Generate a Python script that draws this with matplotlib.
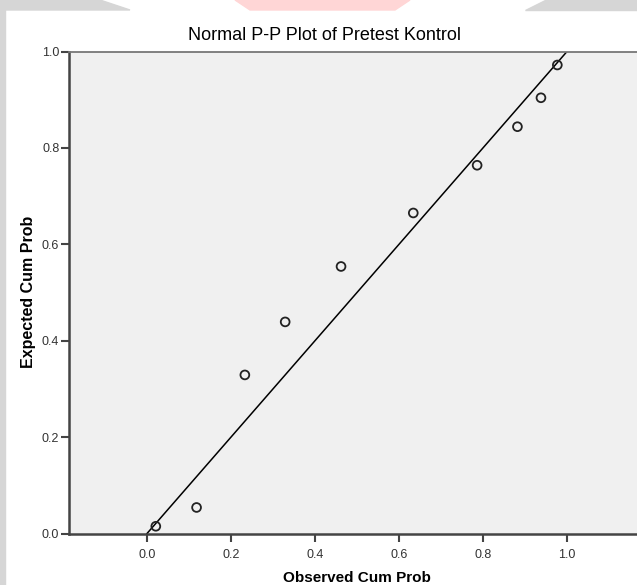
import matplotlib
matplotlib.use("Agg")
import matplotlib.pyplot as plt
from matplotlib.patches import Polygon, Rectangle

observed = [0.021, 0.118, 0.233, 0.329, 0.462, 0.634, 0.786, 0.882, 0.938, 0.977]
expected = [0.015, 0.054, 0.329, 0.439, 0.554, 0.665, 0.764, 0.844, 0.904, 0.972]
ref_line = [0.0, 1.0]
xticks = [0.0, 0.2, 0.4, 0.6, 0.8, 1.0]
yticks = [0.0, 0.2, 0.4, 0.6, 0.8, 1.0]

title = "Normal P-P Plot of Pretest Kontrol"
xlabel = "Observed Cum Prob"
ylabel = "Expected Cum Prob"

W, H = 637, 585
plt.rcParams['font.family'] = ['Liberation Sans', 'DejaVu Sans']
fig = plt.figure(figsize=(W / 100, H / 100), dpi=100)
fig.patch.set_facecolor('white')

# watermark-like border strips
def fx(px):
    return px / W
def fy(py):
    return 1 - py / H
fig.patches.append(Rectangle((0, 0), fx(5), 1, transform=fig.transFigure, color='#d6d6d6', zorder=0))
fig.patches.append(Polygon([(fx(0), fy(0)), (fx(100), fy(0)), (fx(130), fy(10)), (fx(0), fy(10))],
                           closed=True, transform=fig.transFigure, color='#d6d6d6', zorder=0))
fig.patches.append(Polygon([(fx(235), fy(0)), (fx(410), fy(0)), (fx(395), fy(10)), (fx(250), fy(10))],
                           closed=True, transform=fig.transFigure, color='#ffd6d6', zorder=0))
fig.patches.append(Polygon([(fx(545), fy(0)), (fx(637), fy(0)), (fx(637), fy(10)), (fx(525), fy(10))],
                           closed=True, transform=fig.transFigure, color='#d6d6d6', zorder=0))

left, right = 69, 637
top, bottom = 51.5, 533.5
ax = fig.add_axes([left / W, 1 - bottom / H, (right - left) / W, (bottom - top) / H])
ax.set_facecolor('#f0f0f0')

x0px = 147.0
unit = 420.0
ax.set_xlim((left - x0px) / unit, (right - x0px) / unit)
ax.set_ylim(0, 1)

ax.plot(ref_line, ref_line, color='black', lw=1.1, zorder=2)
ax.scatter(observed, expected, s=40, facecolors='none', edgecolors='#222222', linewidths=1.3, zorder=3)

ax.set_xticks(xticks)
ax.set_yticks(yticks)
ax.set_xticklabels([f"{v:.1f}" for v in xticks])
ax.set_yticklabels([f"{v:.1f}" for v in yticks])
ax.tick_params(axis='both', direction='out', length=6, width=1.5, color='#444444',
               labelsize=9, labelcolor='#333333', pad=1)
ax.tick_params(axis='x', pad=5)

for side in ['left', 'bottom']:
    ax.spines[side].set_color('#444444')
    ax.spines[side].set_linewidth(1.8)
ax.spines['top'].set_color('#777777')
ax.spines['top'].set_linewidth(1.3)
ax.spines['right'].set_visible(False)

fig.text(324 / W, 1 - 36 / H, title, ha='center', va='center', fontsize=13, color='black')
fig.text(357 / W, 1 - 577.5 / H, xlabel, ha='center', va='center', fontsize=11,
         fontweight='bold', color='black')
fig.text(28 / W, 1 - 292 / H, ylabel, ha='center', va='center', fontsize=11.5,
         fontweight='bold', rotation=90, color='black')

fig.savefig('out.png', dpi=100)
